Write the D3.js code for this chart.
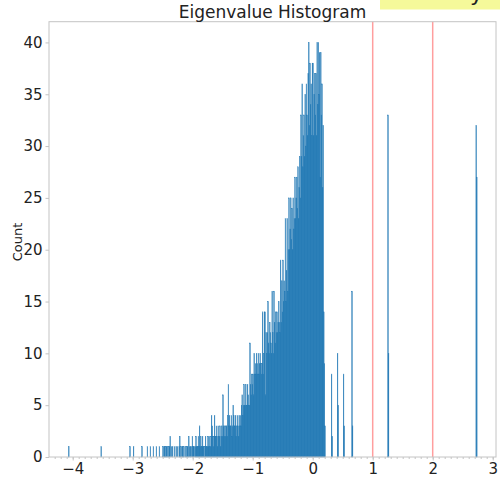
<!DOCTYPE html>
<html>
<head>
<meta charset="utf-8">
<script src="https://cdn.jsdelivr.net/npm/d3@7"></script>
<style>
  html, body { margin: 0; padding: 0; background: #fff; }
  svg { display: block; }
  text { font-family: "DejaVu Sans", sans-serif; fill: #222; }
</style>
</head>
<body>
<div id="chart"></div>
<script>
// ---------------- data ----------------
const binWidth = 0.01;
const denseStart = -2.50;               // left edge of first bin in denseCounts
const denseCounts = [
  1,0,1,1,0,1,1,0,1,0,        // -2.50 .. -2.41
  1,1,2,0,1,0,1,0,0,1,        // -2.40
  0,0,1,0,1,0,0,1,2,0,        // -2.30
  1,0,1,1,0,1,0,0,1,0,        // -2.20
  1,1,0,2,1,0,1,1,0,2,        // -2.10
  1,1,1,0,1,2,1,1,1,2,        // -2.00
  1,3,1,2,1,1,2,1,1,0,        // -1.90
  1,2,1,1,1,2,1,2,1,1,        // -1.80
  2,4,3,2,1,2,4,2,2,3,        // -1.70
  2,1,3,2,2,3,1,2,3,2,        // -1.60
  6,3,2,3,2,3,3,2,4,7,        // -1.50
  3,4,3,3,4,2,3,5,4,3,        // -1.40
  3,4,2,3,4,3,2,4,3,4,        // -1.30
  3,5,6,4,5,7,5,5,7,5,        // -1.20
  5,7,6,5,5,11,7,6,8,7,       // -1.10
  8,6,10,8,9,8,10,9,8,10,     // -1.00
  8,9,10,9,8,9,14,8,10,14,    // -0.90
  14,6,12,10,12,15,11,10,13,12, // -0.80
  11,10,16,12,10,16,13,11,14,12, // -0.70
  14,12,13,15,13,12,19,13,17,14, // -0.60
  19,15,17,16,23,15,18,23,16,20, // -0.50
  25,20,22,25,21,24,20,25,22,23, // -0.40
  27,23,25,27,24,28,23,26,29,25, // -0.30
  33,29,36,28,31,33,29,35,30,36, // -0.20
  33,31,37,40,32,38,34,36,31,38, // -0.10
  38,31,35,37,33,37,31,40,34,40, //  0.00
  35,39,27,39,33,36,26,32,14,9,  //  0.10
  3                              //  0.20
];
// isolated bins (left edge, count)
const isolatedLefts  = [-4.07, -3.53, -3.05, -2.99, -2.85, -2.76, -2.71, -2.66, -2.61, -2.56,
                        0.31, 0.32, 0.41, 0.42, 0.51, 0.52, 0.65, 0.66, 1.25, 1.26, 2.72, 2.73];
const isolatedCounts = [1, 1, 1, 1, 1, 1, 1, 1, 1, 1,
                        8, 2, 10, 5, 8, 3, 16, 3, 33, 10, 32, 27];

const markerLines = [1, 2];
const xTickValues = [-4, -3, -2, -1, 0, 1, 2, 3];
const yTickValues = [0, 5, 10, 15, 20, 25, 30, 35, 40];
const titleText = "Eigenvalue Histogram";
const yLabelText = "Count";

// ---------------- layout ----------------
const W = 500, H = 477;
const plotL = 49, plotR = 496, plotT = 21.7, plotB = 457;

const bins = denseCounts.map((c, i) => ({ x0: denseStart + i * binWidth, count: c }))
  .concat(isolatedLefts.map((x, i) => ({ x0: x, count: isolatedCounts[i] })))
  .filter(d => d.count > 0);

const x = d3.scaleLinear().domain([-4.395, 3.055]).range([plotL, plotR]);
const y = d3.scaleLinear().domain([0, 42]).range([plotB, plotT]);

const svg = d3.select("#chart").append("svg").attr("width", W).attr("height", H);

// bars
svg.append("g").selectAll("rect").data(bins).join("rect")
  .attr("x", d => x(d.x0))
  .attr("width", d => x(d.x0 + binWidth) - x(d.x0))
  .attr("y", d => y(d.count))
  .attr("height", d => y(0) - y(d.count))
  .attr("fill", "#1f77b4")
  .attr("stroke", "#1f77b4")
  .attr("stroke-width", 0.4);

// red vertical lines
svg.append("g").selectAll("line").data(markerLines).join("line")
  .attr("x1", d => x(d)).attr("x2", d => x(d))
  .attr("y1", plotT).attr("y2", plotB)
  .attr("stroke", "#ff0000").attr("stroke-opacity", 0.38).attr("stroke-width", 1.5);

// frame
svg.append("rect")
  .attr("x", plotL).attr("y", plotT)
  .attr("width", plotR - plotL).attr("height", plotB - plotT)
  .attr("fill", "none").attr("stroke", "#c4c4c4").attr("stroke-width", 1);

// minor x ticks
const minor = d3.range(-43, 31).map(i => i / 10);
const gMinor = svg.append("g").attr("transform", `translate(0,${plotB})`)
  .call(d3.axisBottom(x).tickValues(minor).tickSize(2).tickFormat(""));
gMinor.select(".domain").remove();
gMinor.selectAll("line").attr("stroke", "#c4c4c4");

// major x axis
const gx = svg.append("g").attr("transform", `translate(0,${plotB})`)
  .call(d3.axisBottom(x).tickValues(xTickValues).tickSize(3.5).tickPadding(3).tickFormat(d3.format("d")));
gx.select(".domain").remove();
gx.selectAll("line").attr("stroke", "#c4c4c4");
gx.selectAll("text").attr("font-size", 15).attr("font-family", "DejaVu Sans").attr("fill", "#222");

// y axis
const gy = svg.append("g").attr("transform", `translate(${plotL},0)`)
  .call(d3.axisLeft(y).tickValues(yTickValues).tickSize(3.5).tickPadding(3));
gy.select(".domain").remove();
gy.selectAll("line").attr("stroke", "#c4c4c4");
gy.selectAll("text").attr("font-size", 15).attr("font-family", "DejaVu Sans").attr("fill", "#222");

// y label
svg.append("text")
  .attr("transform", `translate(22,242) rotate(-90)`)
  .attr("text-anchor", "middle")
  .attr("font-size", 13)
  .text(yLabelText);

// title
svg.append("text")
  .attr("x", (plotL + plotR) / 2).attr("y", 17.5)
  .attr("text-anchor", "middle")
  .attr("font-size", 17)
  .text(titleText);

// partially visible yellow annotation box at top right
svg.append("rect").attr("x", 380).attr("y", -20).attr("width", 130).attr("height", 29.5)
  .attr("fill", "#f5f99a");
svg.append("text").attr("x", 470).attr("y", 1).attr("font-size", 22).text("y");
</script>
</body>
</html>
